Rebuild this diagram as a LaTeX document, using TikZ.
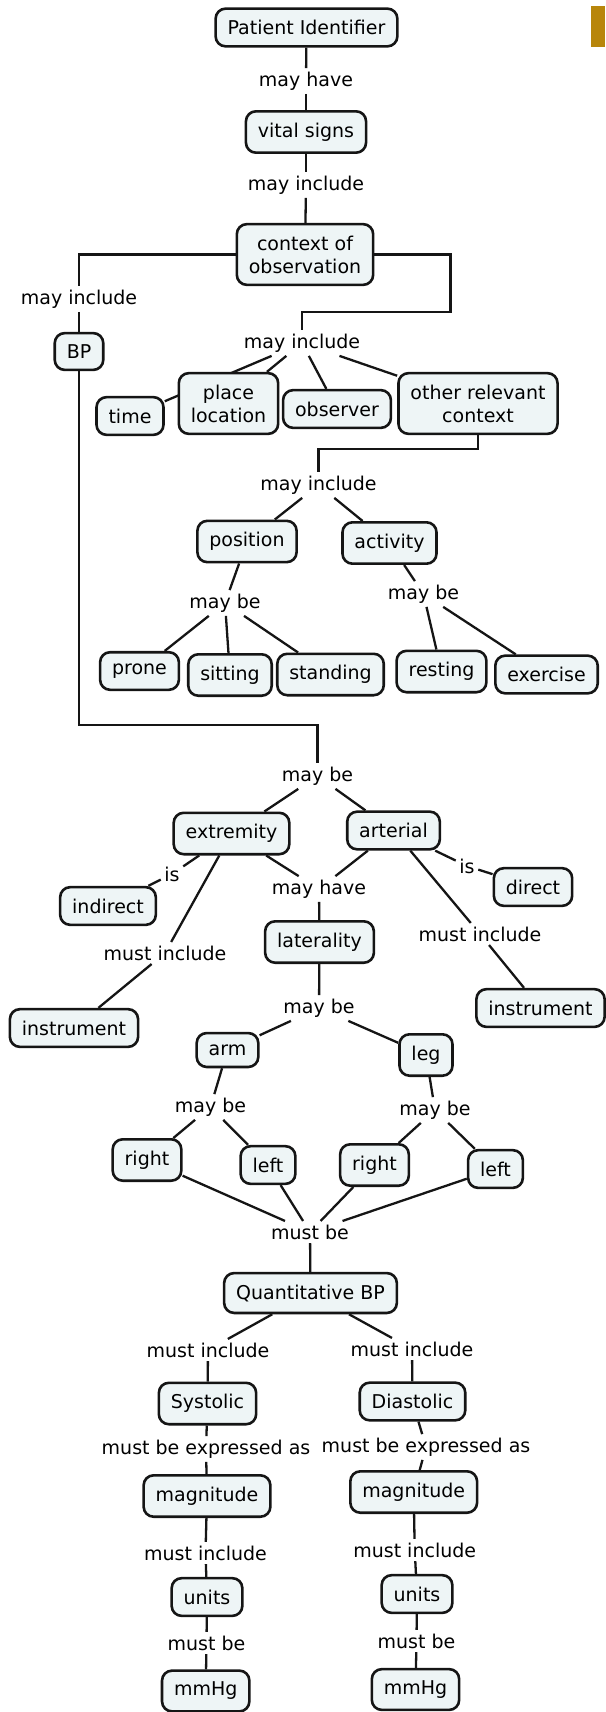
\documentclass[tikz,border=0pt]{standalone}
\usepackage{fontspec}
\setmainfont{DejaVu Sans}
\usetikzlibrary{calc}
\pgfdeclarelayer{background}
\pgfsetlayers{background,main}
\definecolor{boxfill}{HTML}{EEF5F6}
\definecolor{boxline}{HTML}{151515}
\definecolor{goldbar}{HTML}{B8860B}
\newcommand\cmfont{\fontsize{19}{23}\selectfont}
\tikzset{
  cbox/.style={draw=boxline, line width=2.6pt, rounded corners=10pt, fill=boxfill,
    inner xsep=12pt, inner ysep=11.5pt, align=center, font=\cmfont},
  lbl/.style={inner sep=3.5pt, font=\cmfont},
  conn/.style={draw=boxline, line width=2.3pt, line join=miter}
}
\begin{document}
\begin{tikzpicture}[x=1pt,y=-1pt]
\useasboundingbox (0,0) rectangle (605,1712);
\fill[goldbar] (591,6) rectangle (605,47);
% concepts
\node[cbox] (pid) at (306.5,27.5) {Patient Identifier};
\node[cbox] (vs) at (306,132) {vital signs};
\node[cbox] (ctx) at (305,254.5) {context of\\observation};
\node[cbox] (bp) at (79,351.5) {BP};
\node[cbox] (time) at (130,416) {time};
\node[cbox] (place) at (228.5,403.5) {place\\location};
\node[cbox] (obs) at (337,409) {observer};
\node[cbox] (orc) at (478,403.5) {other relevant\\context};
\node[cbox] (pos) at (247,541.5) {position};
\node[cbox] (act) at (389.5,543) {activity};
\node[cbox] (prone) at (139.5,671) {prone};
\node[cbox] (sit) at (230,675) {sitting};
\node[cbox] (stand) at (330.5,674.5) {standing};
\node[cbox] (rest) at (441.5,671.5) {resting};
\node[cbox] (exer) at (546.5,674.5) {exercise};
\node[cbox] (ext) at (231.5,833.5) {extremity};
\node[cbox] (art) at (393.5,830.5) {arterial};
\node[cbox] (ind) at (108,906) {indirect};
\node[cbox] (dir) at (533,887) {direct};
\node[cbox] (lat) at (319.5,942) {laterality};
\node[cbox] (ins1) at (74,1028) {instrument};
\node[cbox] (ins2) at (540.5,1008) {instrument};
\node[cbox] (arm) at (227.5,1050) {arm};
\node[cbox] (leg) at (426,1055) {leg};
\node[cbox] (ra) at (147,1160) {right};
\node[cbox] (la) at (268,1165) {left};
\node[cbox] (rl) at (374.5,1165) {right};
\node[cbox] (ll) at (495.5,1169) {left};
\node[cbox] (qbp) at (310.5,1293) {Quantitative BP};
\node[cbox] (sys) at (207.5,1403.5) {Systolic};
\node[cbox] (dia) at (412.5,1401.5) {Diastolic};
\node[cbox] (mag1) at (207,1496) {magnitude};
\node[cbox] (mag2) at (413.7,1492) {magnitude};
\node[cbox] (un1) at (207,1597) {units};
\node[cbox] (un2) at (417,1594) {units};
\node[cbox] (mm1) at (205.7,1691) {mmHg};
\node[cbox] (mm2) at (415.5,1689.5) {mmHg};
% linking phrases
\node[lbl] (l1) at (306,81) {may have};
\node[lbl] (l2) at (306,185) {may include};
\node[lbl] (l3) at (79,299) {may include};
\node[lbl] (l4) at (302,343) {may include};
\node[lbl] (l5) at (318.5,485) {may include};
\node[lbl] (l6) at (225,603) {may be};
\node[lbl] (l7) at (423.5,594) {may be};
\node[lbl] (l8) at (317.5,776) {may be};
\node[lbl] (l9) at (172,874) {is};
\node[lbl] (l10) at (467,866) {is};
\node[lbl] (l11) at (319,889) {may have};
\node[lbl] (l12) at (165,953) {must include};
\node[lbl] (l13) at (480,934) {must include};
\node[lbl] (l14) at (319,1008) {may be};
\node[lbl] (l15) at (210.5,1107) {may be};
\node[lbl] (l16) at (435,1110) {may be};
\node[lbl] (l17) at (310,1232) {must be};
\node[lbl] (l18) at (208,1350) {must include};
\node[lbl] (l19) at (412,1349) {must include};
\node[lbl] (l20) at (206,1449) {must be expressed as};
\node[lbl] (l21) at (426,1447) {must be expressed as};
\node[lbl] (l22) at (205.5,1553) {must include};
\node[lbl] (l23) at (414.7,1550) {must include};
\node[lbl] (l24) at (206.5,1643) {must be};
\node[lbl] (l25) at (416.5,1641) {must be};
\coordinate (k1) at (450.5,312);
\coordinate (k2) at (478,449);
\coordinate (k3) at (79,725);
\begin{pgfonlayer}{background}
\draw[conn] (pid) -- (l1);
\draw[conn] (l1) -- (vs);
\draw[conn] (vs) -- (l2);
\draw[conn] (l2) -- (ctx);
\draw[conn] (ctx.west) -| (l3.north);
\draw[conn] (l3) -- (bp);
\draw[conn] (ctx.east) -| (k1) -| (l4.north);
\draw[conn] (l4) -- (time);
\draw[conn] (l4) -- (place);
\draw[conn] (l4) -- (obs);
\draw[conn] (l4) -- (orc);
\draw[conn] (orc.south) -- (k2) -| (l5.north);
\draw[conn] (l5) -- (pos);
\draw[conn] (l5) -- (act);
\draw[conn] (pos) -- (l6);
\draw[conn] (l6) -- (prone);
\draw[conn] (l6) -- (sit);
\draw[conn] (l6) -- (stand);
\draw[conn] (act) -- (l7);
\draw[conn] (l7) -- (rest);
\draw[conn] (l7) -- (exer);
\draw[conn] (bp.south) -- (k3) -| (l8.north);
\draw[conn] (l8) -- (ext);
\draw[conn] (l8) -- (art);
\draw[conn] (ext) -- (l9);
\draw[conn] (l9) -- (ind);
\draw[conn] (ext) -- (l12);
\draw[conn] (l12) -- (ins1);
\draw[conn] (ext) -- (l11);
\draw[conn] (art) -- (l11);
\draw[conn] (l11) -- (lat);
\draw[conn] (art) -- (l10);
\draw[conn] (l10) -- (dir);
\draw[conn] (art) -- (l13);
\draw[conn] (l13) -- (ins2);
\draw[conn] (lat) -- (l14);
\draw[conn] (l14) -- (arm);
\draw[conn] (l14) -- (leg);
\draw[conn] (arm) -- (l15);
\draw[conn] (l15) -- (ra);
\draw[conn] (l15) -- (la);
\draw[conn] (leg) -- (l16);
\draw[conn] (l16) -- (rl);
\draw[conn] (l16) -- (ll);
\draw[conn] (ra) -- (l17);
\draw[conn] (la) -- (l17);
\draw[conn] (rl) -- (l17);
\draw[conn] (ll) -- (l17);
\draw[conn] (l17) -- (qbp);
\draw[conn] (qbp) -- (l18);
\draw[conn] (qbp) -- (l19);
\draw[conn] (l18) -- (sys);
\draw[conn] (l19) -- (dia);
\draw[conn] (sys) -- (l20);
\draw[conn] (l20) -- (mag1);
\draw[conn] (dia) -- (l21);
\draw[conn] (l21) -- (mag2);
\draw[conn] (mag1) -- (l22);
\draw[conn] (l22) -- (un1);
\draw[conn] (mag2) -- (l23);
\draw[conn] (l23) -- (un2);
\draw[conn] (un1) -- (l24);
\draw[conn] (l24) -- (mm1);
\draw[conn] (un2) -- (l25);
\draw[conn] (l25) -- (mm2);
\end{pgfonlayer}
\end{tikzpicture}
\end{document}
